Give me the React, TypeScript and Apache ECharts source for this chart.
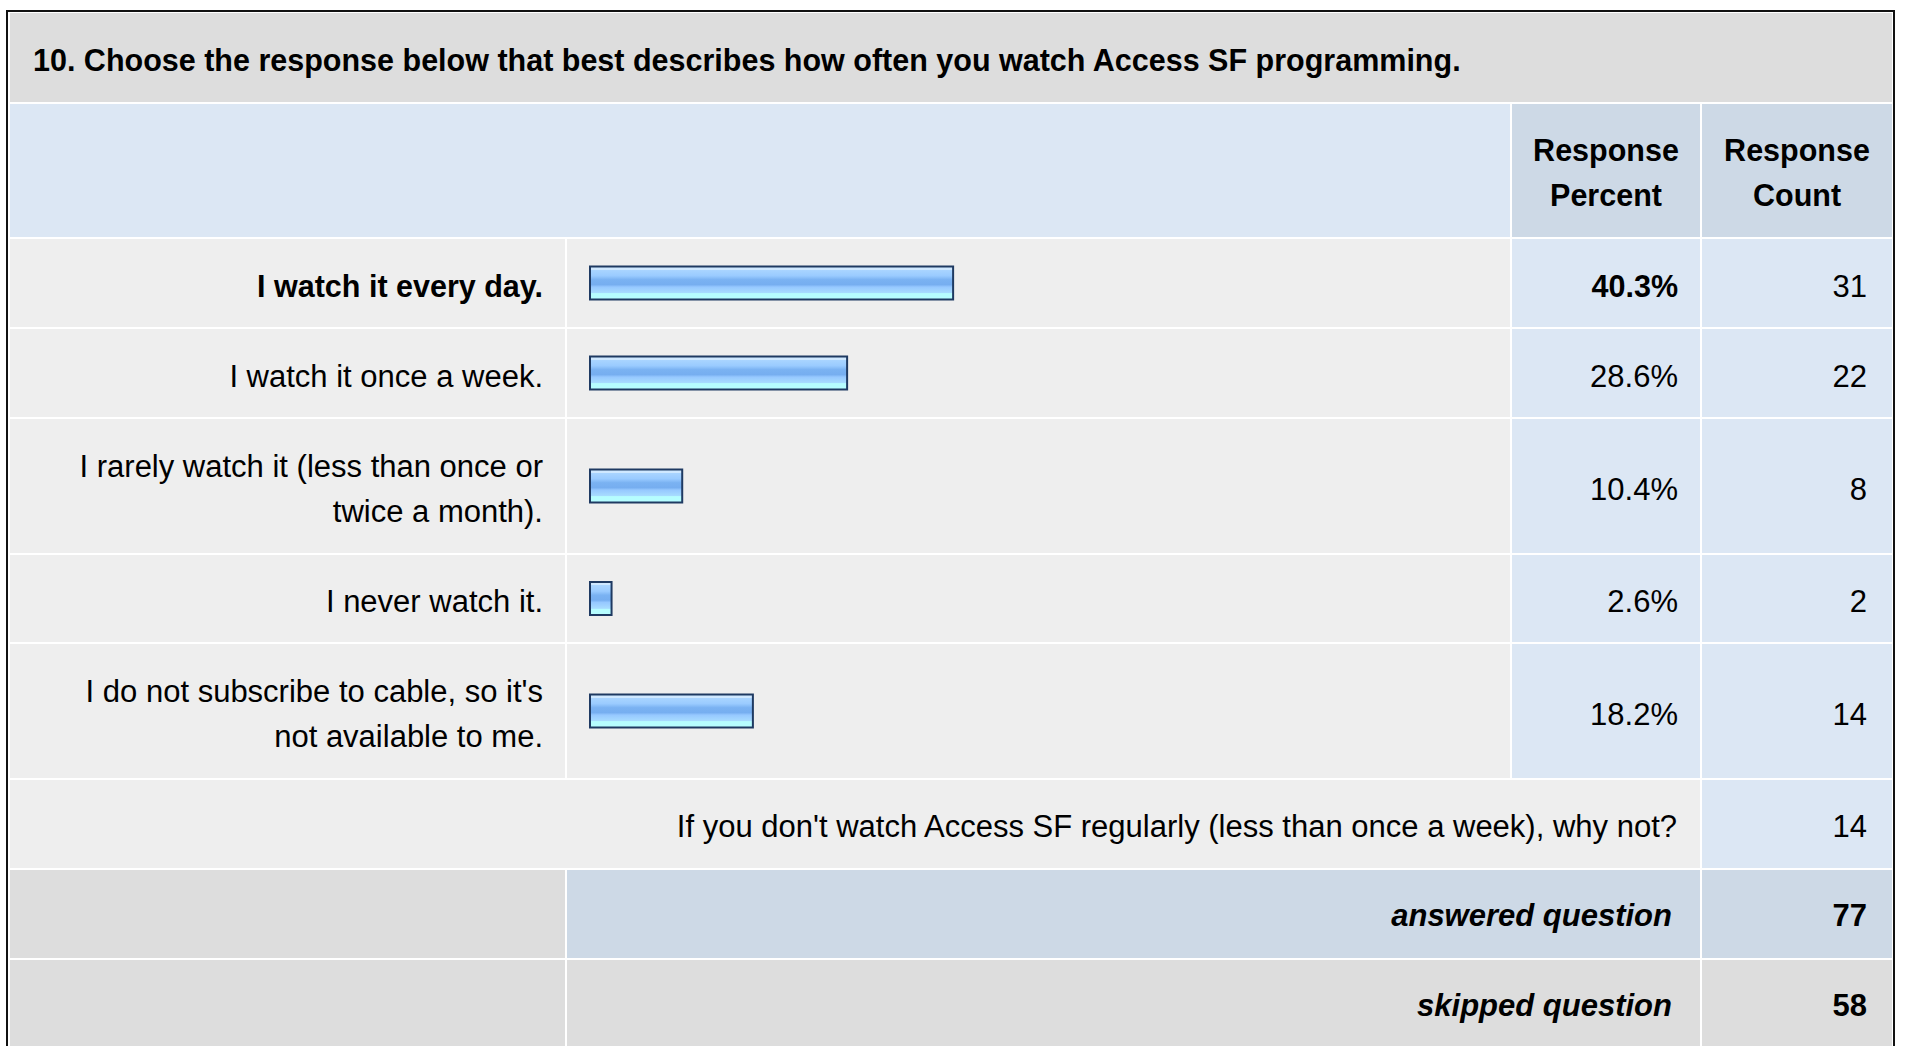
import React, { useEffect, useRef } from "react";
import * as echarts from "echarts";

// ---------- data ----------
const questionTitle =
  "10. Choose the response below that best describes how often you watch Access SF programming.";
const headerLabels = ["Response\nPercent", "Response\nCount"];
const answerLabels = [
  "I watch it every day.",
  "I watch it once a week.",
  "I rarely watch it (less than once or\ntwice a month).",
  "I never watch it.",
  "I do not subscribe to cable, so it's\nnot available to me.",
];
const responsePercent = [40.3, 28.6, 10.4, 2.6, 18.2];
const responseCount = [31, 22, 8, 2, 14];
const commentPrompt =
  "If you don't watch Access SF regularly (less than once a week), why not?";
const commentCount = 14;
const answeredLabel = "answered question";
const answeredCount = 77;
const skippedLabel = "skipped question";
const skippedCount = 58;

// ---------- layout ----------
const W = 1907;
const H = 1046;
const FONT = "'Liberation Sans', Arial, Helvetica, sans-serif";
const FS_BOLD = 30.5;
const FS = 31;
const LH = 45;

const C_TITLE = "#dddddd";
const C_HEAD = "#dce7f4";
const C_HEAD_DARK = "#cdd9e6";
const C_ROW = "#eeeeee";
const C_CELL = "#dce7f4";
const C_GREY = "#dddddd";

const X_LABEL = [10, 565];
const X_BAR = [567, 1510];
const X_PCT = [1512, 1700];
const X_CNT = [1702, 1892];

const TITLE_Y = [13, 102];
const HEAD_Y = [104, 237];
const rowTops = [239, 329, 419, 555, 644];
const rowHeights = [88, 88, 134, 87, 134];
const COMMENT_Y = [780, 868];
const ANSWERED_Y = [870, 958];
const SKIPPED_Y = [960, 1048];

const BAR_LEFT = 589;
const BAR_FULL = 906;

export default function App() {
  const ref = useRef<HTMLDivElement>(null);

  useEffect(() => {
    if (!ref.current) return;
    const chart = echarts.init(ref.current, undefined, { renderer: "svg" });
    const maxIdx = responsePercent.indexOf(Math.max(...responsePercent));

    const rect = (x0: number, x1: number, y0: number, y1: number, fill: string, z = 0) => ({
      type: "rect",
      silent: true,
      z,
      shape: { x: x0, y: y0, width: x1 - x0, height: y1 - y0 },
      style: { fill },
    });
    const text = (
      str: string,
      x: number,
      y: number,
      align: string,
      opts: any = {}
    ) => ({
      type: "text",
      silent: true,
      z: 20,
      x,
      y,
      style: {
        text: str,
        fill: "#000000",
        fontSize: opts.size || FS,
        fontFamily: FONT,
        fontWeight: opts.bold ? "bold" : "normal",
        fontStyle: opts.italic ? "italic" : "normal",
        align,
        verticalAlign: "middle",
        lineHeight: LH,
      },
    });

    const elements: any[] = [];
    // outer border
    elements.push(rect(6, 1895, 10, 1110, "#111111", -2));
    elements.push(rect(8, 1893, 12, 1110, "#ffffff", -1));
    // title band
    elements.push(rect(X_LABEL[0], X_CNT[1], TITLE_Y[0], TITLE_Y[1], C_TITLE));
    elements.push(text(questionTitle, 33, 60, "left", { bold: true, size: FS_BOLD }));
    // header
    elements.push(rect(X_LABEL[0], X_BAR[1], HEAD_Y[0], HEAD_Y[1], C_HEAD));
    elements.push(rect(X_PCT[0], X_PCT[1], HEAD_Y[0], HEAD_Y[1], C_HEAD_DARK));
    elements.push(rect(X_CNT[0], X_CNT[1], HEAD_Y[0], HEAD_Y[1], C_HEAD_DARK));
    const headMid = (HEAD_Y[0] + HEAD_Y[1]) / 2 + 1.5;
    elements.push(text(headerLabels[0], (X_PCT[0] + X_PCT[1]) / 2, headMid, "center", { bold: true, size: FS_BOLD }));
    elements.push(text(headerLabels[1], (X_CNT[0] + X_CNT[1]) / 2, headMid, "center", { bold: true, size: FS_BOLD }));

    // answer rows
    answerLabels.forEach((lab, i) => {
      const y0 = rowTops[i];
      const y1 = y0 + rowHeights[i];
      const mid = (y0 + y1) / 2 + 3;
      const isMax = i === maxIdx;
      elements.push(rect(X_LABEL[0], X_LABEL[1], y0, y1, C_ROW));
      elements.push(rect(X_BAR[0], X_BAR[1], y0, y1, C_ROW));
      elements.push(rect(X_PCT[0], X_PCT[1], y0, y1, C_CELL));
      elements.push(rect(X_CNT[0], X_CNT[1], y0, y1, C_CELL));
      elements.push(text(lab, 543, mid, "right", { bold: isMax, size: isMax ? FS_BOLD : FS }));
      elements.push(
        text(responsePercent[i].toFixed(1) + "%", 1678, mid, "right", {
          bold: isMax,
          size: isMax ? FS_BOLD : FS,
        })
      );
      elements.push(text(String(responseCount[i]), 1867, mid, "right"));
    });

    // comment row
    {
      const mid = (COMMENT_Y[0] + COMMENT_Y[1]) / 2 + 2.5;
      elements.push(rect(X_LABEL[0], X_PCT[1], COMMENT_Y[0], COMMENT_Y[1], C_ROW));
      elements.push(rect(X_CNT[0], X_CNT[1], COMMENT_Y[0], COMMENT_Y[1], C_CELL));
      elements.push(text(commentPrompt, 1677, mid, "right"));
      elements.push(text(String(commentCount), 1867, mid, "right"));
    }
    // answered row
    {
      const mid = (ANSWERED_Y[0] + ANSWERED_Y[1]) / 2 + 1.5;
      elements.push(rect(X_LABEL[0], X_LABEL[1], ANSWERED_Y[0], ANSWERED_Y[1], C_GREY));
      elements.push(rect(X_BAR[0], X_PCT[1], ANSWERED_Y[0], ANSWERED_Y[1], C_HEAD_DARK));
      elements.push(rect(X_CNT[0], X_CNT[1], ANSWERED_Y[0], ANSWERED_Y[1], C_HEAD_DARK));
      elements.push(text(answeredLabel, 1672, mid, "right", { bold: true, italic: true }));
      elements.push(text(String(answeredCount), 1867, mid, "right", { bold: true }));
    }
    // skipped row
    {
      const mid = (SKIPPED_Y[0] + SKIPPED_Y[1]) / 2 + 1.5;
      elements.push(rect(X_LABEL[0], X_LABEL[1], SKIPPED_Y[0], SKIPPED_Y[1], C_GREY));
      elements.push(rect(X_BAR[0], X_PCT[1], SKIPPED_Y[0], SKIPPED_Y[1], C_GREY));
      elements.push(rect(X_CNT[0], X_CNT[1], SKIPPED_Y[0], SKIPPED_Y[1], C_GREY));
      elements.push(text(skippedLabel, 1672, mid, "right", { bold: true, italic: true }));
      elements.push(text(String(skippedCount), 1867, mid, "right", { bold: true }));
    }

    const barFill = new echarts.graphic.LinearGradient(0, 0, 0, 1, [
      { offset: 0, color: "#cfe8ff" },
      { offset: 0.1, color: "#cfe8ff" },
      { offset: 0.1, color: "#aad5ff" },
      { offset: 0.28, color: "#9acbff" },
      { offset: 0.4, color: "#7ab2f2" },
      { offset: 0.55, color: "#76aef0" },
      { offset: 0.62, color: "#96c8ff" },
      { offset: 0.8, color: "#a8dcff" },
      { offset: 0.82, color: "#b6fdff" },
      { offset: 1, color: "#b6fdff" },
    ]);

    const grids = answerLabels.map((_, i) => ({
      left: BAR_LEFT,
      width: BAR_FULL,
      top: rowTops[i],
      height: rowHeights[i],
      containLabel: false,
    }));
    const xAxes = answerLabels.map((_, i) => ({
      type: "value",
      gridIndex: i,
      min: 0,
      max: 100,
      show: false,
    }));
    const yAxes = answerLabels.map((lab, i) => ({
      type: "category",
      gridIndex: i,
      data: [lab],
      axisLine: { show: false },
      axisTick: { show: false },
      splitLine: { show: false },
      axisLabel: { show: false },
    }));
    const series = answerLabels.map((lab, i) => ({
      type: "bar",
      xAxisIndex: i,
      yAxisIndex: i,
      z: 10,
      barWidth: 35,
      silent: true,
      data: [responsePercent[i]],
      itemStyle: {
        color: barFill,
        borderColor: "#1f3a62",
        borderWidth: 2,
      },
    }));

    chart.setOption({
      animation: false,
      backgroundColor: "#ffffff",
      textStyle: { fontFamily: FONT },
      graphic: { elements },
      grid: grids,
      xAxis: xAxes,
      yAxis: yAxes,
      series,
    });

    return () => chart.dispose();
  }, []);

  return (
    <div
      ref={ref}
      style={{ position: "fixed", left: 0, top: 0, width: W, height: H }}
    />
  );
}
